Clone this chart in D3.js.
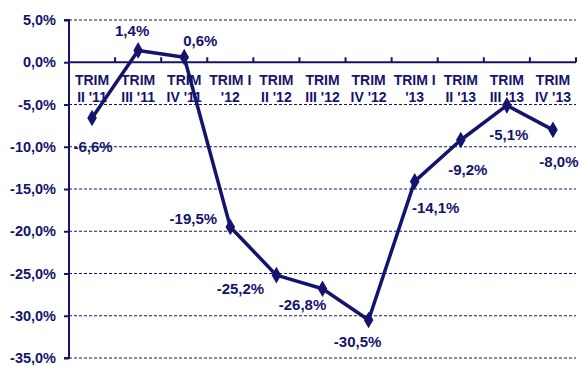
<!DOCTYPE html>
<html><head><meta charset="utf-8">
<script src="https://cdn.jsdelivr.net/npm/d3@7"></script>
<style>body{margin:0;background:#fff}svg{display:block}</style>
</head><body>
<svg id="c" width="581" height="365"></svg>
<script>
const categories = [["TRIM","II '11"],["TRIM","III '11"],["TRIM","IV '11"],["TRIM I","'12"],["TRIM","II '12"],["TRIM","III '12"],["TRIM","IV '12"],["TRIM I","'13"],["TRIM","II '13"],["TRIM","III '13"],["TRIM","IV '13"]];
const values = [-6.6, 1.4, 0.6, -19.5, -25.2, -26.8, -30.5, -14.1, -9.2, -5.1, -8.0];
const yTicks = [5, 0, -5, -10, -15, -20, -25, -30, -35];
const labelOffsets = [[1,34],[-6,-14],[16,-11],[-37,-3],[-36,19],[-20,21],[-11,27],[21,32],[7,35],[2,35],[6,37]];

(function(){
const navy = "#14146c";
const svg = d3.select("#c");
const mL = 69, mR = 576, mT = 20, mB = 358;
const fmt = v => d3.format(".1f")(v).replace(".", ",").replace("−","-") + "%";
const font = "bold 14px 'Liberation Sans', Arial, sans-serif";

const y = d3.scaleLinear().domain([-35, 5]).range([mB, mT]);
const x = d3.scaleBand().domain(categories.map((d,i)=>i)).range([mL, mR]).padding(0);

svg.append("g").selectAll("line").data(yTicks.filter(t=>t!==0)).join("line")
  .attr("x1", mL).attr("x2", mR)
  .attr("y1", d=>y(d)).attr("y2", d=>y(d))
  .attr("stroke", navy).attr("stroke-width", 1).attr("stroke-dasharray", "3,2");

const yAxis = d3.axisLeft(y).tickValues(yTicks).tickFormat(fmt).tickSize(5).tickPadding(8);
const gy = svg.append("g").attr("transform", `translate(${mL},0)`).call(yAxis);
gy.select(".domain").attr("stroke", navy).attr("stroke-width", 2).attr("d", `M-5,${mT}H0V${mB}H-5`);
gy.selectAll(".tick line").attr("stroke", navy).attr("stroke-width", 2);
gy.selectAll(".tick text").attr("fill", navy).style("font", "bold 14.5px 'Liberation Sans', Arial, sans-serif");

const xAxis = d3.axisTop(x).tickSize(0).tickFormat("");
const gx = svg.append("g").attr("transform", `translate(0,${y(0)})`).call(xAxis);
gx.select(".domain").attr("stroke", navy).attr("stroke-width", 2).attr("d", `M${mL},0H${mR}`);
const bounds = d3.range(categories.length + 1).map(i => mL + i * x.bandwidth());
gx.selectAll("line.bt").data(bounds).join("line").attr("class","bt")
  .attr("x1", d=>d).attr("x2", d=>d).attr("y1", 0).attr("y2", -5)
  .attr("stroke", navy).attr("stroke-width", 2);
const cl = svg.append("g").selectAll("text").data(categories).join("text")
  .attr("text-anchor", "middle").attr("fill", navy)
  .style("font", font);
cl.each(function(d,i){
  const t = d3.select(this);
  const cx = x(i) + x.bandwidth()/2;
  t.append("tspan").attr("x", cx).attr("y", y(0)+23).text(d[0]);
  t.append("tspan").attr("x", cx).attr("y", y(0)+40).text(d[1]);
});

const line = d3.line().x((d,i)=>x(i)+x.bandwidth()/2).y(d=>y(d));
svg.append("path").datum(values).attr("d", line)
  .attr("fill","none").attr("stroke", navy).attr("stroke-width", 3.5).attr("stroke-linejoin","round");

svg.append("g").selectAll("path").data(values).join("path")
  .attr("d", d3.symbol().type(d3.symbolDiamond).size(80))
  .attr("transform", (d,i)=>`translate(${x(i)+x.bandwidth()/2},${y(d)})`)
  .attr("fill", navy);

svg.append("g").selectAll("text").data(values).join("text")
  .attr("x", (d,i)=>x(i)+x.bandwidth()/2 + labelOffsets[i][0])
  .attr("y", (d,i)=>y(d) + labelOffsets[i][1])
  .attr("text-anchor","middle").attr("fill", navy)
  .style("font", "bold 15px 'Liberation Sans', Arial, sans-serif")
  .text(d=>fmt(d));
})();
</script>
</body></html>
